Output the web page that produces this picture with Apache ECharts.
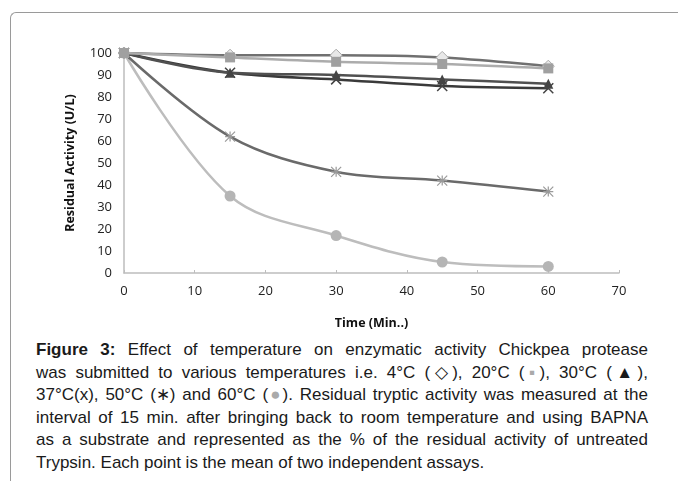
<!DOCTYPE html>
<html lang="en">
<head>
    <meta charset="UTF-8">
    <title>Figure 3</title>
    <script src="https://cdn.jsdelivr.net/npm/echarts@6.0.0/dist/echarts.min.js"></script>
    <style>
        body {
            margin: 0;
            width: 678px;
            height: 491px;
            overflow: hidden;
            background: #fff;
            font-family: "Liberation Sans", Arial, sans-serif;
            position: relative;
        }
        .frame {
            position: absolute;
            left: 10px;
            top: 12px;
            width: 700px;
            height: 468px;
            border-top: 1px solid #9a9a9a;
            border-left: 1px solid #9a9a9a;
            border-top-left-radius: 6px;
        }
        #chart {
            position: absolute;
            left: 0;
            top: 0;
            width: 678px;
            height: 335px;
        }
        .caption {
            position: absolute;
            left: 36px;
            top: 339px;
            width: 612px;
            font-size: 17px;
            line-height: 22.6px;
            color: #1a1a1a;
        }
        .caption div {
            text-align: justify;
            text-align-last: justify;
            white-space: nowrap;
        }
        .caption div.last {
            text-align-last: left;
        }
    </style>
</head>
<body>
    <div class="frame"></div>
    <div id="chart"></div>
    <div class="caption">
        <div><b>Figure 3:</b> Effect of temperature on enzymatic activity Chickpea protease</div>
        <div>was submitted to various temperatures i.e. 4°C (◇), 20°C (<span style="color:#aaa">▪</span>), 30°C (▲),</div>
        <div>37°C(x), 50°C (∗) and 60°C (<span style="color:#aaa">●</span>). Residual tryptic activity was measured at the</div>
        <div>interval of 15 min. after bringing back to room temperature and using BAPNA</div>
        <div>as a substrate and represented as the % of the residual activity of untreated</div>
        <div class="last">Trypsin. Each point is the mean of two independent assays.</div>
    </div>

    <script>
        // 数据
        const times = [0, 15, 30, 45, 60];
        const t4 = [100, 99, 99, 98, 94];
        const t20 = [100, 98, 96, 95, 93];
        const t30 = [100, 91, 90, 88, 86];
        const t37 = [100, 91, 88, 85, 84];
        const t50 = [100, 62, 46, 42, 37];
        const t60 = [100, 35, 17, 5, 3];
        const xTicks = [0, 10, 20, 30, 40, 50, 60, 70];

        const crossPath = 'path://M0,0L10,10M10,0L0,10';
        const starPath = 'path://M0,0L10,10M10,0L0,10M5,0L5,10M0,5L10,5';

        function pairs(vals) {
            return times.map((t, i) => [t, vals[i]]);
        }

        function line(name, vals, color, symbol, size, markerStyle, z) {
            return {
                name: name,
                type: 'line',
                smooth: 0.35,
                data: pairs(vals),
                symbol: symbol,
                symbolSize: size,
                z: z,
                lineStyle: { color: color, width: 2.5 },
                itemStyle: markerStyle
            };
        }

        const chart = echarts.init(document.getElementById('chart'));
        const option = {
            animation: false,
            grid: { left: 124, right: 59, top: 53, height: 224 },
            xAxis: {
                type: 'value',
                min: 0,
                max: 70,
                interval: 10,
                name: 'Time (Min..)',
                nameLocation: 'middle',
                nameGap: 44,
                nameTextStyle: { fontFamily: 'Open Sans', fontWeight: 'bold', fontSize: 12.5, color: '#111' },
                axisLine: { lineStyle: { color: '#bdbdbd', width: 1.5 } },
                axisTick: { show: true, inside: true, length: 3, lineStyle: { color: '#bdbdbd' } },
                axisLabel: {
                    fontFamily: 'Open Sans', fontSize: 13, color: '#222', margin: 12,
                    formatter: v => xTicks.includes(v) ? String(v) : ''
                },
                splitLine: { show: false }
            },
            yAxis: {
                type: 'value',
                min: 0,
                max: 100,
                interval: 10,
                name: 'Residual Activity (U/L)',
                nameLocation: 'middle',
                nameGap: 47,
                nameTextStyle: { fontFamily: 'Open Sans', fontWeight: 'bold', fontSize: 12.5, color: '#111' },
                axisLine: { show: true, lineStyle: { color: '#bdbdbd', width: 1.5 } },
                axisTick: { show: false },
                axisLabel: { fontFamily: 'Open Sans', fontSize: 13, color: '#222', margin: 12 },
                splitLine: { show: false }
            },
            series: [
                line('60°C', t60, '#bdbdbd', 'circle', 11, { color: '#b5b5b5' }, 2),
                line('50°C', t50, '#6a6a6a', starPath, 10, { color: 'none', borderColor: '#9a9a9a', borderWidth: 1.2 }, 3),
                line('37°C', t37, '#3a3a3a', crossPath, 10, { color: 'none', borderColor: '#444', borderWidth: 1.5 }, 4),
                line('30°C', t30, '#505050', 'triangle', 10, { color: '#444' }, 5),
                line('4°C', t4, '#707070', 'diamond', 12, { color: '#e8e8e8', borderColor: '#aaa', borderWidth: 1 }, 6),
                line('20°C', t20, '#acacac', 'rect', 10, { color: '#a0a0a0' }, 7)
            ]
        };
        chart.setOption(option);
    </script>
</body>
</html>
